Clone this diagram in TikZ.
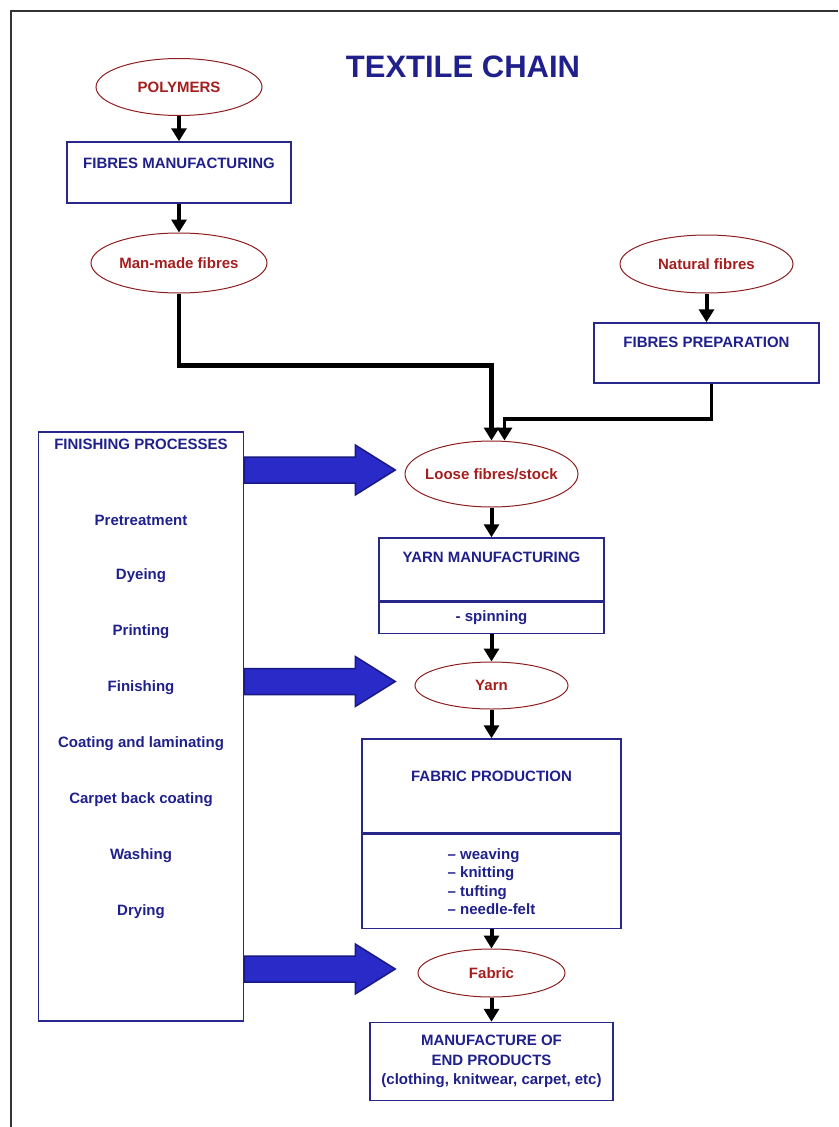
\documentclass[tikz,border=0pt]{standalone}
\usepackage{fontspec}
\setmainfont{Liberation Sans}
\usetikzlibrary{shapes.geometric,arrows.meta}

\definecolor{txtblue}{RGB}{32,32,140}
\definecolor{txtred}{RGB}{165,30,30}
\definecolor{ovalred}{RGB}{140,30,30}
\definecolor{boxblue}{RGB}{40,40,140}
\definecolor{arrowfill}{RGB}{42,42,200}
\definecolor{arrowedge}{RGB}{25,25,130}

\begin{document}
\begin{tikzpicture}[x=1pt,y=-1pt]
\tikzset{every node/.style={font=\bfseries\fontsize{15}{19}\selectfont},
  oval/.style={ellipse,draw=ovalred,line width=1pt,text=txtred,inner xsep=-25pt,inner ysep=0pt},
  box/.style={draw=boxblue,line width=1.5pt,text=txtblue,inner sep=0pt},
  boxlbl/.style={anchor=center,text=txtblue,inner sep=0pt},
  flow/.style={line width=4pt,-{Triangle[width=15pt,length=13pt]}},
  bigarrow/.style={fill=arrowfill,draw=arrowedge,line width=1.5pt,line join=miter}}
\useasboundingbox (0,0) rectangle (838,1127);
\draw [black!80,line width=2pt] (11,1127) -- (11,11) -- (838,11);
\node [text=txtblue,font=\bfseries\fontsize{31}{36}\selectfont] (title) at (463,67) {TEXTILE CHAIN};
% left column
\node [oval,minimum width=166pt,minimum height=57pt] (poly) at (179,87) {POLYMERS};
\node [box,minimum width=224pt,minimum height=61pt,
  label={[boxlbl,yshift=-22pt]north:FIBRES MANUFACTURING}] (fman) at (179,172.5) {};
\node [oval,minimum width=176pt,minimum height=60pt] (manmade) at (179,263) {Man-made fibres};
% right column
\node [oval,minimum width=173pt,minimum height=58pt] (natural) at (706.5,264) {Natural fibres};
\node [box,minimum width=225pt,minimum height=60pt,
  label={[boxlbl,yshift=-20pt]north:FIBRES PREPARATION}] (fprep) at (706.5,353) {};
% main chain
\node [oval,minimum width=173pt,minimum height=66pt] (loose) at (491.5,474) {Loose fibres/stock};
\node [box,minimum width=225pt,minimum height=63pt,
  label={[boxlbl,yshift=-20pt]north:YARN MANUFACTURING}] (yman) at (491.5,569.5) {};
\node [box,minimum width=225pt,minimum height=31pt,anchor=north] (spin) at (yman.south) {- spinning};
\node [oval,minimum width=153pt,minimum height=47pt] (yarn) at (491.5,685.5) {Yarn};
\node [box,minimum width=259pt,minimum height=94pt,
  label={[boxlbl,yshift=-38pt]north:FABRIC PRODUCTION}] (fprod) at (491.5,786) {};
\node [box,minimum width=259pt,minimum height=94pt,anchor=north,align=left,
  font=\bfseries\fontsize{15}{18.5}\selectfont] (fmeth) at (fprod.south) {– weaving\\– knitting\\– tufting\\– needle-felt};
\node [oval,minimum width=147pt,minimum height=48pt] (fabric) at (491.5,973) {Fabric};
\node [box,minimum width=243pt,minimum height=78pt,align=center,
  font=\bfseries\fontsize{15}{19.5}\selectfont] (endp) at (491.5,1061.5) {MANUFACTURE OF\\END PRODUCTS\\(clothing, knitwear, carpet, etc)};
% finishing
\node [box,minimum width=205pt,minimum height=589pt,
  label={[boxlbl,yshift=-13pt]north:FINISHING PROCESSES}] (fin) at (141,726.5) {};
\foreach \proc [count=\i] in {Pretreatment,Dyeing,Printing,Finishing,Coating and laminating,Carpet back coating,Washing,Drying}
  \node [text=txtblue] (fin\i) at (141,464+56*\i) {\proc};
% connectors
\draw [flow] (poly) -- (fman);
\draw [flow] (fman) -- (manmade);
\draw [flow] (natural) -- (fprep);
\draw [flow,line width=4.5pt] (manmade.south) -- ++(0,72) -| (loose.north);
\draw [flow,line width=3.5pt] ([xshift=5pt]fprep.south) -- ++(0,35) -| ([xshift=13pt]loose.north);
\draw [flow] (loose) -- (yman);
\draw [flow] (spin) -- (yarn);
\draw [flow] (yarn) -- (fprod);
\draw [flow] (fmeth) -- (fabric);
\draw [flow] (fabric) -- (endp);
\foreach \target in {loose,yarn,fabric}
  \filldraw [bigarrow] ([yshift=4pt]fin.east |- \target.west) ++(0,-13) -- ++(111,0) -- ++(0,-12)
    -- ++(40,25) -- ++(-40,25) -- ++(0,-12) -- ++(-111,0) -- cycle;
\end{tikzpicture}
\end{document}
